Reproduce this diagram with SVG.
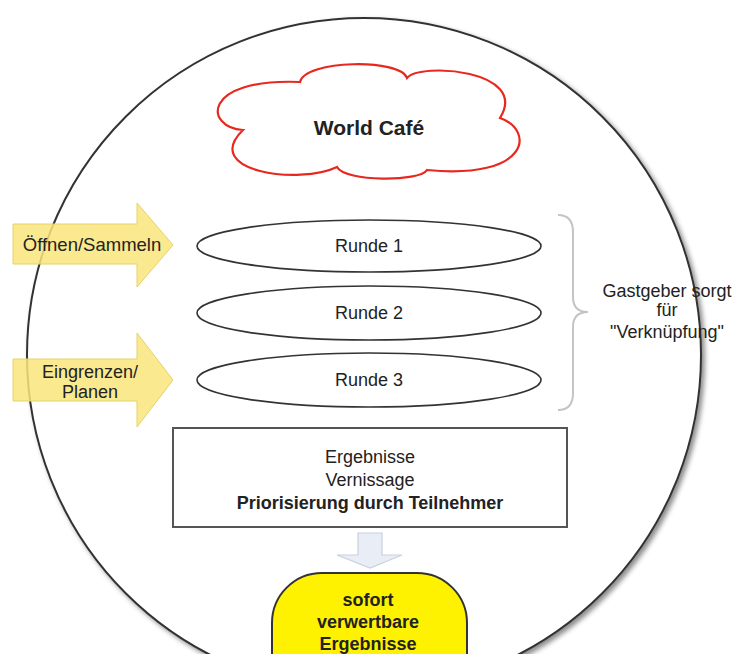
<svg xmlns="http://www.w3.org/2000/svg" width="748" height="654" viewBox="0 0 748 654">
<defs>
<filter id="sh" x="-10%" y="-10%" width="120%" height="120%">
<feDropShadow dx="3" dy="3" stdDeviation="2.5" flood-color="#000" flood-opacity="0.45"/>
</filter>
</defs>
<style>
.t{font-family:"Liberation Sans",Arial,sans-serif;font-size:18px;fill:#222;text-anchor:middle}
.b{font-weight:bold}
.ell{fill:#fff;stroke:#333;stroke-width:1.6}
.arr{fill:#f9e57a;fill-opacity:0.85;stroke:#e6d26a;stroke-width:1}
</style>
<rect width="748" height="654" fill="#fff"/>
<g id="circle">
<circle cx="364" cy="355" r="337" fill="#fff" stroke="#333" stroke-width="2" filter="url(#sh)"/>
</g>
<g id="cloud">
<path d="M243,130 C205,128 200,78 300,82 C305,60 400,58 407,78 C420,62 530,70 500,118 C535,130 530,180 427,170 C420,182 345,182 337,167 C300,185 200,172 243,130 Z" fill="#fff" stroke="#e8281e" stroke-width="2.2"/>
<text class="t b" x="369" y="135" style="font-size:21px">World Café</text>
</g>
<g id="arrow1">
<path class="arr" d="M13,224 L137,224 L137,203 L173,245 L137,287 L137,264 L13,264 Z"/>
<text class="t" x="92" y="251" style="font-size:18.5px">Öffnen/Sammeln</text>
</g>
<g id="arrow2">
<path class="arr" d="M13,359 L137,359 L137,333 L173,380 L137,427 L137,401 L13,401 Z"/>
<text class="t" x="90" y="378">Eingrenzen/</text>
<text class="t" x="90" y="398">Planen</text>
</g>
<g id="runde1">
<ellipse class="ell" cx="369" cy="246" rx="172" ry="26"/>
<text class="t" x="369" y="252">Runde 1</text>
</g>
<g id="runde2">
<ellipse class="ell" cx="369" cy="313" rx="172" ry="27"/>
<text class="t" x="369" y="319">Runde 2</text>
</g>
<g id="runde3">
<ellipse class="ell" cx="369" cy="380" rx="172" ry="27"/>
<text class="t" x="369" y="386">Runde 3</text>
</g>
<g id="brace">
<path d="M558,215 Q573,215 573,232 L573,297 Q573,312 588,312 Q573,312 573,327 L573,393 Q573,410 558,410" fill="none" stroke="#c4c4c4" stroke-width="2"/>
</g>
<g id="host">
<text class="t" x="667" y="297">Gastgeber sorgt</text>
<text class="t" x="667" y="316">für</text>
<text class="t" x="667" y="338">"Verknüpfung"</text>
</g>
<g id="results">
<rect x="173" y="428" width="394" height="99" fill="#fff" stroke="#555" stroke-width="2"/>
<text class="t" x="370" y="463">Ergebnisse</text>
<text class="t" x="370" y="486">Vernissage</text>
<text class="t b" x="370" y="509">Priorisierung durch Teilnehmer</text>
</g>
<g id="connectors">
<path d="M358,533 L382,533 L382,555 L402,555 L370,568 L337,555 L358,555 Z" fill="#e9eef6" stroke="#c9d1dd" stroke-width="1.2"/>
</g>
<g id="outcome">
<rect x="272" y="573" width="195" height="130" rx="50" ry="50" fill="#fff200" stroke="#333" stroke-width="2"/>
<text class="t b" x="368" y="606">sofort</text>
<text class="t b" x="368" y="628">verwertbare</text>
<text class="t b" x="368" y="650">Ergebnisse</text>
</g>
</svg>
